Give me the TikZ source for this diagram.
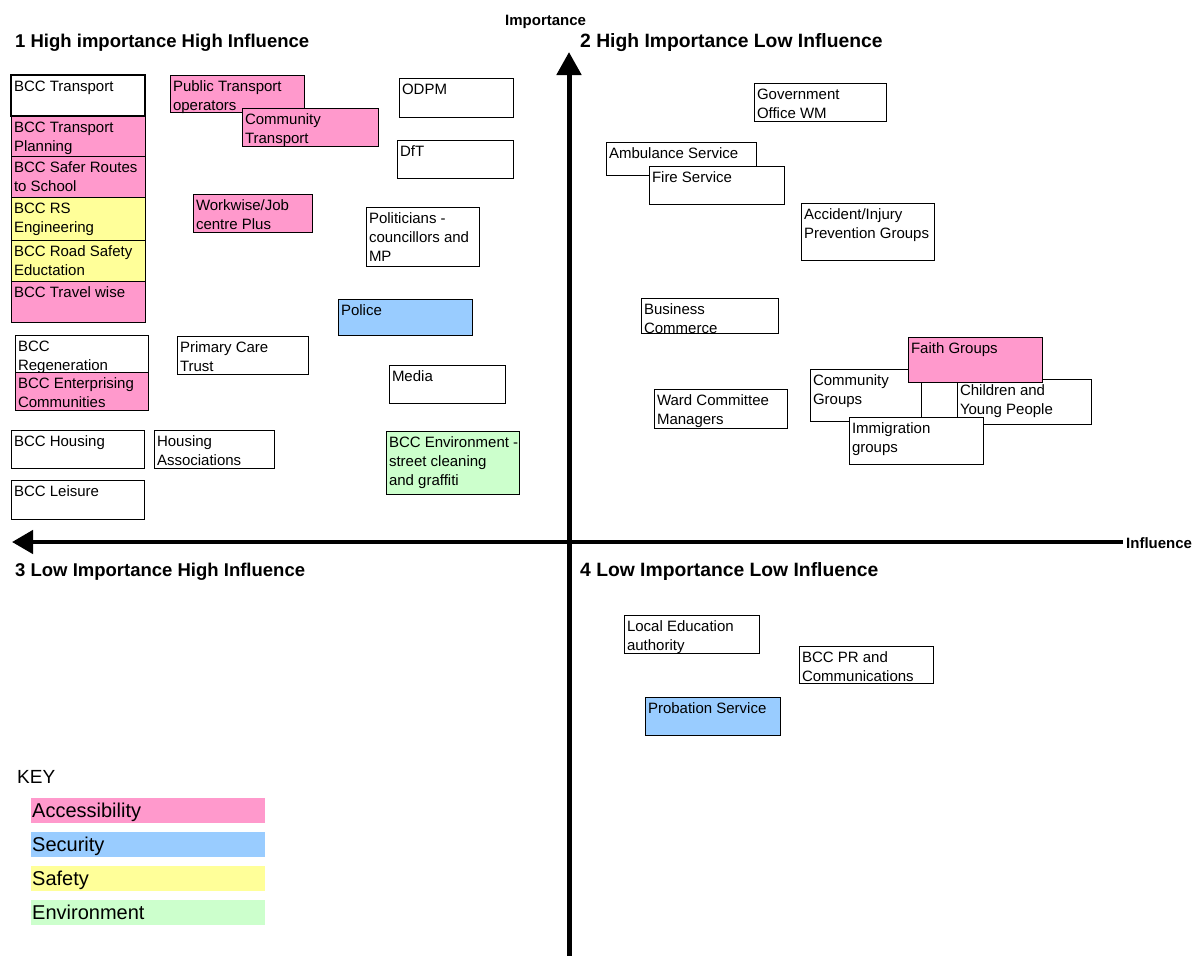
\documentclass[tikz,border=0pt]{standalone}
\usepackage{fontspec}
\setmainfont{Liberation Sans}
\usetikzlibrary{arrows.meta}

\definecolor{accpink}{HTML}{FF99CC}
\definecolor{secblue}{HTML}{99CCFF}
\definecolor{safyellow}{HTML}{FFFF99}
\definecolor{envgreen}{HTML}{CCFFCC}

\tikzset{
  sbox/.style={draw=black, line width=1pt, inner sep=0pt, outer sep=0pt, anchor=north west},
  stxt/.style={anchor=north west, inner sep=0pt, outer sep=0pt, align=left,
               font=\fontsize{15}{19}\selectfont},
  quadhead/.style={anchor=base west, inner sep=0pt, font=\bfseries\fontsize{18.5}{22}\selectfont},
  quadheadr/.style={quadhead, font=\bfseries\fontsize{19.3}{22}\selectfont},
  axislbl/.style={anchor=base west, inner sep=0pt, font=\bfseries\fontsize{15}{18}\selectfont},
  keybar/.style={inner sep=0pt, outer sep=0pt, anchor=north west, minimum width=234pt, minimum height=25pt},
  keytxt/.style={anchor=base west, inner sep=0pt, font=\fontsize{20}{24}\selectfont},
  axisline/.style={line width=5pt},
}

% \stakebox{name}{fill}{x1}{y1}{x2}{y2}{text}
\newcommand\stakebox[7]{%
  \node[sbox, fill=#2, minimum width={(#5-#3)*1pt}, minimum height={(#6-#4)*1pt}] (#1) at (#3,#4) {};
  \node[stxt] (#1-t) at ([shift={(3,3)}]#1.north west) {\strut #7};
}

\begin{document}
\begin{tikzpicture}[x=1pt, y=-1pt]
\useasboundingbox (0,0) rectangle (1200,956);

% axes
\coordinate (ybot) at (569,956);
\coordinate (ytop) at (569,52);
\coordinate (xright) at (1123,542);
\coordinate (xleft) at (12,542);
\draw[axisline, -{Triangle[width=24pt,length=23pt]}] (ybot) -- (ytop);
\draw[axisline, line width=4.5pt, -{Triangle[width=23pt,length=21pt]}] (xright) -- (xleft);
\node[axislbl] (implbl) at (505,25) {Importance};
\node[axislbl] (inflbl) at (1126,548) {Influence};

% quadrant headings
\node[quadhead] (q1) at (15,47) {1 High importance High Influence};
\node[quadheadr] (q2) at (580,47) {2 High Importance Low Influence};
\node[quadhead] (q3) at (15,576) {3 Low Importance High Influence};
\node[quadheadr] (q4) at (580,576) {4 Low Importance Low Influence};

% quadrant 1
\stakebox{bt}{white}{11}{75}{145}{116}{BCC Transport}
\draw[line width=1.6pt] (bt.north west) rectangle (bt.south east);
\stakebox{btp}{accpink}{11}{116}{145}{156}{BCC Transport\\Planning}
\stakebox{bsr}{accpink}{11}{156}{145}{197}{BCC Safer Routes\\to School}
\stakebox{brs}{safyellow}{11}{197}{145}{240}{BCC RS\\Engineering}
\stakebox{brse}{safyellow}{11}{240}{145}{281}{BCC Road Safety\\Eductation}
\stakebox{btw}{accpink}{11}{281}{145}{322}{BCC Travel wise}
\stakebox{pto}{accpink}{170}{75}{304}{112}{Public Transport\\operators}
\stakebox{ct}{accpink}{242}{108}{378}{146}{Community\\Transport}
\stakebox{wjc}{accpink}{193}{194}{312}{232}{Workwise/Job\\centre Plus}
\stakebox{odpm}{white}{399}{78}{513}{117}{ODPM}
\stakebox{dft}{white}{397}{140}{513}{178}{DfT}
\stakebox{pol}{white}{366}{207}{479}{266}{Politicians -\\councillors and\\MP}
\stakebox{police}{secblue}{338}{299}{472}{335}{Police}
\stakebox{media}{white}{389}{365}{505}{403}{Media}
\stakebox{env}{envgreen}{386}{431}{519}{494}{BCC Environment -\\street cleaning\\and graffiti}
\stakebox{breg}{white}{15}{335}{148}{372}{BCC\\Regeneration}
\stakebox{bec}{accpink}{15}{372}{148}{410}{BCC Enterprising\\Communities}
\stakebox{pct}{white}{177}{336}{308}{374}{Primary Care\\Trust}
\stakebox{bh}{white}{11}{430}{144}{468}{BCC Housing}
\stakebox{ha}{white}{154}{430}{274}{468}{Housing\\Associations}
\stakebox{bl}{white}{11}{480}{144}{519}{BCC Leisure}

% quadrant 2
\stakebox{gow}{white}{754}{83}{886}{121}{Government\\Office WM}
\stakebox{amb}{white}{606}{142}{756}{175}{Ambulance Service}
\stakebox{fire}{white}{649}{166}{784}{204}{Fire Service}
\stakebox{acc}{white}{801}{203}{934}{260}{Accident/Injury\\Prevention Groups}
\stakebox{bus}{white}{641}{298}{778}{333}{Business\\Commerce}
\stakebox{ward}{white}{654}{389}{787}{428}{Ward Committee\\Managers}
\stakebox{comm}{white}{810}{369}{921}{421}{Community\\Groups}
\stakebox{child}{white}{957}{379}{1091}{424}{Children and\\Young People}
\stakebox{faith}{accpink}{908}{337}{1042}{382}{Faith Groups}
\stakebox{imm}{white}{849}{417}{983}{464}{Immigration\\groups}

% quadrant 4
\stakebox{lea}{white}{624}{615}{759}{653}{Local Education\\authority}
\stakebox{bpr}{white}{799}{646}{933}{683}{BCC PR and\\Communications}
\stakebox{prob}{secblue}{645}{697}{780}{735}{Probation Service}

% key
\node[keytxt, font=\fontsize{19}{23}\selectfont] (keyhead) at (17,783) {KEY};
\node[keybar, fill=accpink] (kacc) at (31,798) {};
\node[keytxt] (kacc-t) at (32,817) {Accessibility};
\node[keybar, fill=secblue] (ksec) at (31,832) {};
\node[keytxt] (ksec-t) at (32,851) {Security};
\node[keybar, fill=safyellow] (ksaf) at (31,866) {};
\node[keytxt] (ksaf-t) at (32,885) {Safety};
\node[keybar, fill=envgreen] (kenv) at (31,900) {};
\node[keytxt] (kenv-t) at (32,919) {Environment};
\end{tikzpicture}
\end{document}
